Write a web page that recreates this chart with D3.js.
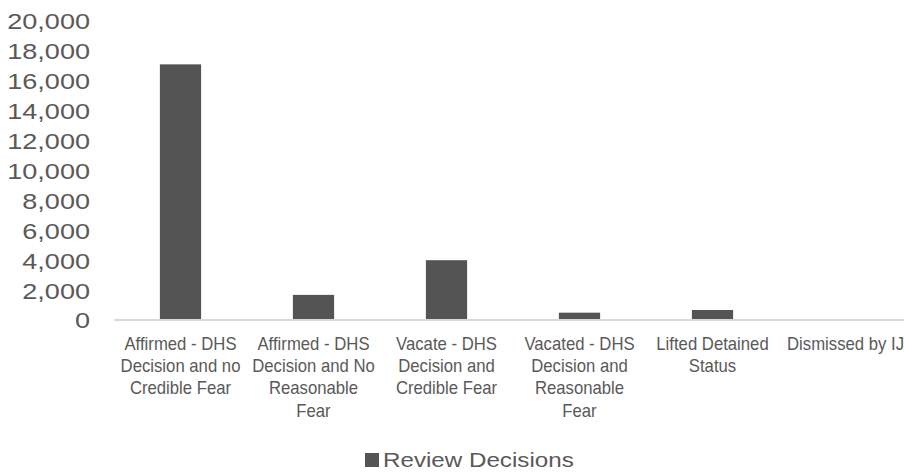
<!DOCTYPE html>
<html>
<head>
<meta charset="utf-8">
<script src="https://cdn.jsdelivr.net/npm/d3@7"></script>
<style>
  html, body { margin: 0; padding: 0; background: #fff; }
  svg { display: block; }
</style>
</head>
<body>
<svg id="chart" width="904" height="472"></svg>
<script>
const categories = [
  "Affirmed - DHS\nDecision and no\nCredible Fear",
  "Affirmed - DHS\nDecision and No\nReasonable\nFear",
  "Vacate - DHS\nDecision and\nCredible Fear",
  "Vacated - DHS\nDecision and\nReasonable\nFear",
  "Lifted Detained\nStatus",
  "Dismissed by IJ"
];
const reviewDecisions = [17100, 1680, 4000, 490, 670, 0];
const yTicks = [0, 2000, 4000, 6000, 8000, 10000, 12000, 14000, 16000, 18000, 20000];
const seriesName = "Review Decisions";

const svg = d3.select("#chart");
const barColor = "#545454";
const textColor = "#595959";

const x = d3.scaleBand().domain(categories).range([114, 912]).paddingInner(0.69).paddingOuter(0.345);
const y = d3.scaleLinear().domain([0, 20000]).range([320, 21]);

// y tick labels (no axis line)
const yAxis = d3.axisLeft(y).tickValues(yTicks).tickFormat(d3.format(",")).tickSize(0).tickPadding(0);
const gy = svg.append("g").attr("transform", "translate(90,0)").call(yAxis);
gy.select(".domain").remove();
gy.selectAll("text")
  .attr("x", 0)
  .attr("dy", "0.36em")
  .attr("fill", textColor)
  .style("font-family", "'Liberation Sans', Arial, sans-serif")
  .style("font-size", "22px")
  .attr("transform", "scale(1.23,1)");

// bars
svg.append("g").selectAll("rect")
  .data(categories.map((c, i) => ({ c, v: reviewDecisions[i] })))
  .join("rect")
  .attr("x", d => x(d.c))
  .attr("width", x.bandwidth())
  .attr("y", d => y(d.v))
  .attr("height", d => y(0) - y(d.v))
  .attr("fill", barColor);

// category axis line
svg.append("line")
  .attr("x1", x.range()[0]).attr("x2", x.range()[1])
  .attr("y1", y(0)).attr("y2", y(0))
  .attr("stroke", "#d9d9d9").attr("stroke-width", 2);

// category labels
const labels = svg.append("g").selectAll("g")
  .data(categories)
  .join("g")
  .attr("transform", d => `translate(${x(d) + x.bandwidth() / 2},350) scale(0.955,1)`);
labels.each(function(d) {
  const t = d3.select(this).append("text")
    .attr("text-anchor", "middle")
    .attr("fill", textColor)
    .style("font-family", "'Liberation Sans', Arial, sans-serif")
    .style("font-size", "17.5px");
  d.split("\n").forEach((line, i) => {
    t.append("tspan").attr("x", 0).attr("y", i * 22.2).text(line);
  });
});

// legend
const lg = svg.append("g").attr("transform", "translate(365,453)");
lg.append("rect").attr("width", 14).attr("height", 14).attr("fill", barColor);
lg.append("text")
  .attr("transform", "translate(18,14.3) scale(1.24,1)")
  .attr("fill", textColor)
  .style("font-family", "'Liberation Sans', Arial, sans-serif")
  .style("font-size", "19.5px")
  .text(seriesName);
</script>
</body>
</html>
